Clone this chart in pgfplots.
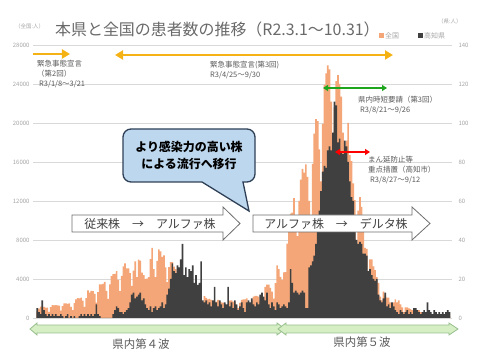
\documentclass[border=0pt]{standalone}
\usepackage{fontspec}
\setmainfont{Noto Sans CJK JP}
\usepackage{pgfplots}
\usepackage{pgfplotstable}
\pgfplotsset{compat=1.18}
\usetikzlibrary{arrows.meta}
\definecolor{natorange}{RGB}{244,166,120}
\definecolor{kdark}{RGB}{64,64,64}
\definecolor{gridgray}{RGB}{217,217,217}
\definecolor{tickgray}{RGB}{165,165,165}
\definecolor{txtgray}{RGB}{89,89,89}
\definecolor{titlegray}{RGB}{105,105,105}
\definecolor{gold}{RGB}{245,178,20}
\definecolor{callblue}{RGB}{189,215,238}
\definecolor{calldark}{RGB}{47,64,86}
\definecolor{lgreen}{RGB}{214,238,196}
\definecolor{lgreendraw}{RGB}{150,190,140}
\definecolor{garrow}{RGB}{30,165,30}
\definecolor{blockgray}{RGB}{110,110,110}

% national daily cases, 2021-03-01 .. 2021-10-31
\pgfplotstableread[row sep=\\,header=false]{
680\\950\\1170\\1190\\1150\\1060\\1070\\
620\\1120\\1310\\1290\\1320\\1300\\1280\\
760\\1220\\1510\\1500\\1460\\1500\\1130\\
800\\1520\\1920\\2040\\2020\\2080\\1780\\
1130\\2050\\2840\\2610\\2770\\2760\\2470\\
1570\\2660\\3450\\3450\\3500\\3700\\2780\\
1950\\3450\\4300\\4500\\4530\\4800\\3900\\
2750\\4330\\5300\\5600\\5100\\5100\\4600\\
3300\\4860\\5800\\4200\\5990\\5880\\4650\\
4390\\4000\\4050\\4200\\6050\\7200\\5000\\
4200\\5850\\7030\\6830\\6260\\6420\\5200\\
3680\\5230\\5730\\5730\\5280\\5020\\4000\\
2620\\4180\\4390\\4150\\3700\\3600\\2800\\
1780\\2910\\2890\\2810\\2600\\2570\\2000\\
1270\\2250\\2060\\1900\\1950\\1860\\1390\\
950\\1670\\1850\\1700\\1610\\1570\\1300\\
940\\1420\\1790\\1800\\1680\\1700\\1300\\
1000\\1540\\1870\\1910\\1900\\2000\\1560\\
1120\\1820\\2190\\2260\\2270\\2200\\1760\\
1290\\2090\\3200\\3420\\3430\\3100\\2700\\
1990\\3570\\5390\\5000\\4220\\3900\\4690\\
4700\\7630\\9580\\10700\\10800\\12300\\10170\\
8400\\12000\\14200\\15300\\14900\\15760\\14470\\
12000\\10420\\15800\\18900\\20400\\20200\\17300\\
14000\\19900\\23900\\25100\\25900\\25500\\22200\\
16800\\21600\\24300\\24900\\24000\\22700\\19000\\
12800\\18200\\20000\\16700\\16100\\13800\\12100\\
6600\\11000\\12400\\11400\\9000\\7200\\7100\\
4200\\6000\\6000\\5300\\4900\\4200\\3600\\
2200\\1800\\2700\\2300\\2100\\2100\\1600\\
900\\1600\\1900\\1600\\1800\\1400\\1100\\
600\\1100\\1100\\980\\900\\800\\700\\
380\\600\\800\\600\\600\\500\\400\\
230\\420\\390\\400\\300\\300\\250\\
150\\300\\400\\270\\300\\260\\170\\
}\nat

% Kochi daily cases, same days
\pgfplotstableread[row sep=\\,header=false]{
5\\3\\2\\9\\4\\2\\1\\
2\\1\\2\\1\\2\\1\\1\\
2\\1\\0\\1\\2\\0\\1\\
0\\1\\0\\0\\1\\2\\1\\
2\\1\\2\\1\\2\\1\\2\\
7\\2\\1\\0\\0\\0\\0\\
0\\0\\0\\2\\4\\6\\5\\
3\\3\\2\\3\\4\\5\\8\\
12\\13\\10\\11\\12\\13\\9\\
10\\7\\5\\4\\6\\3\\5\\
6\\4\\5\\6\\8\\5\\7\\
12\\15\\20\\28\\24\\23\\27\\
26\\30\\38\\22\\26\\21\\25\\
24\\27\\18\\22\\17\\18\\29\\
9\\8\\9\\7\\8\\6\\9\\
16\\8\\6\\9\\7\\5\\8\\
7\\16\\6\\8\\5\\9\\7\\
4\\6\\8\\5\\3\\8\\9\\
8\\10\\7\\6\\8\\7\\12\\
13\\11\\9\\13\\7\\5\\8\\
6\\4\\8\\7\\5\\6\\7\\
6\\5\\8\\25\\18\\13\\14\\
13\\12\\13\\14\\13\\5\\5\\
26\\27\\29\\32\\38\\45\\55\\
65\\75\\78\\77\\86\\88\\86\\
95\\111\\109\\90\\92\\85\\84\\
91\\88\\80\\70\\62\\60\\45\\
40\\38\\39\\38\\33\\33\\32\\
24\\25\\22\\20\\19\\20\\12\\
9\\8\\10\\13\\6\\7\\5\\
8\\6\\4\\3\\2\\4\\3\\
2\\3\\4\\2\\3\\2\\5\\
5\\4\\3\\2\\3\\4\\3\\
8\\4\\3\\2\\4\\3\\2\\
3\\2\\3\\2\\3\\4\\3\\
}\kochi

\begin{document}
\begin{tikzpicture}
\path[use as bounding box] (0,0) rectangle (480bp,360bp);
\begin{axis}[
  at={(33bp,42bp)}, anchor=south west,
  scale only axis, width=419bp, height=273bp,
  xmin=-2.5, xmax=245.5, ymin=0, ymax=28000,
  axis y line*=left, axis x line=none,
  axis line style={draw=none}, major tick length=0pt,
  xtick=\empty, ytick={0,4000,...,28000},
  scaled y ticks=false,
  ymajorgrids, grid style={draw=gridgray, line width=0.6pt},
  yticklabel style={font=\fontsize{6}{7}\selectfont, text=tickgray},
  /pgf/number format/1000 sep={},
  /pgf/number format/assume math mode=true,
]
\addplot[ybar, bar width=1, bar shift=0pt, fill=natorange, draw=none]
  table[x expr=\coordindex, y index=0] {\nat};
\end{axis}
\begin{axis}[
  at={(33bp,42bp)}, anchor=south west,
  scale only axis, width=419bp, height=273bp,
  xmin=-2.5, xmax=245.5, ymin=0, ymax=140,
  axis y line*=right, axis x line=none,
  axis line style={draw=none}, major tick length=0pt,
  xtick=\empty, ytick={0,20,...,140},
  scaled y ticks=false,
  yticklabel style={font=\fontsize{6}{7}\selectfont, text=tickgray, xshift=3bp},
  /pgf/number format/assume math mode=true,
]
\addplot[ybar, bar width=1, bar shift=0pt, fill=kdark, draw=none]
  table[x expr=\coordindex, y index=0] {\kochi};
\end{axis}

\begin{scope}[x=1bp, y=-1bp, shift={(0bp,360bp)}]
% title and units
\node[anchor=west, text=titlegray, font=\fontsize{16}{18}\selectfont, inner sep=0] at (55,29) {本県と全国の患者数の推移（R2.3.1～10.31）};
\node[anchor=west, text=tickgray, font=\fontsize{5.5}{6}\selectfont, inner sep=0] at (15,26) {（全国:人）};
\node[anchor=west, text=tickgray, font=\fontsize{5.5}{6}\selectfont, inner sep=0] at (438,21) {（県:人）};
% legend
\fill[natorange] (379,33) rectangle (384,38);
\node[anchor=west, text=tickgray, font=\fontsize{7}{8}\selectfont, inner sep=0] at (385,35.5) {全国};
\fill[kdark] (418,33) rectangle (423,38);
\node[anchor=west, text=tickgray, font=\fontsize{7}{8}\selectfont, inner sep=0] at (424,35.5) {高知県};

% state of emergency arrows
\draw[gold, line width=2.6bp, -{Triangle[length=8bp,width=9bp]}] (33,54) -- (70,54);
\draw[gold, line width=2.6bp, {Triangle[length=8bp,width=9bp]}-{Triangle[length=8bp,width=9bp]}] (115,55) -- (393,55);
\begin{scope}[every node/.style={anchor=west, text=txtgray, font=\fontsize{7.5}{9}\selectfont, inner sep=0}]
\node at (37,64) {緊急事態宣言};
\node at (37,74) {（第2回）};
\node at (39,84) {R3/1/8～3/21};
\node at (210,65) {緊急事態宣言(第3回)};
\node at (210,75) {R3/4/25～9/30};
\node at (358,100) {県内時短要請（第3回）};
\node at (360,110) {R3/8/21～9/26};
\node at (368,160) {まん延防止等};
\node at (368,170) {重点措置（高知市）};
\node at (370,180) {R3/8/27～9/12};
\end{scope}
\draw[garrow, line width=1.5bp, {Triangle[length=5bp,width=6bp]}-{Triangle[length=5bp,width=6bp]}] (323,88) -- (387,88);
\draw[red, line width=1.5bp, {Triangle[length=5bp,width=6bp]}-{Triangle[length=5bp,width=6bp]}] (335,152) -- (370,152);

% callout
\draw[fill=callblue, draw=calldark, line width=1.3bp] (202,182) [rounded corners=8bp] -- (123,182) -- (123,129) -- (255,129) -- (255,182) [sharp corners] -- (243,182) -- (249,211) -- cycle;
\node[font=\fontsize{12}{14}\selectfont\bfseries, inner sep=0] at (189,147) {より感染力の高い株};
\node[font=\fontsize{12}{14}\selectfont\bfseries, inner sep=0] at (189,164) {による流行へ移行};

% strain block arrows
\draw[fill=white, draw=blockgray, line width=0.8bp] (72,215) -- (223,215) -- (223,207) -- (240,223.5) -- (223,240) -- (223,232) -- (72,232) -- cycle;
\node[text=kdark, font=\fontsize{12}{14}\selectfont, inner sep=0] at (150,223.5) {従来株　→　アルファ株};
\draw[fill=white, draw=blockgray, line width=0.8bp] (253,215) -- (412,215) -- (412,207) -- (430,223.5) -- (412,240) -- (412,232) -- (253,232) -- cycle;
\node[text=kdark, font=\fontsize{12}{14}\selectfont, inner sep=0] at (336,223.5) {アルファ株　→　デルタ株};

% wave arrows
\draw[fill=lgreen, draw=lgreendraw, line width=0.8bp] (30,329) -- (37,323) -- (37,325) -- (277,325) -- (277,323) -- (285,329) -- (277,335) -- (277,333) -- (37,333) -- (37,335) -- cycle;
\draw[fill=lgreen, draw=lgreendraw, line width=0.8bp] (278,329) -- (286,323) -- (286,325) -- (449,325) -- (449,323) -- (458,329) -- (449,335) -- (449,333) -- (286,333) -- (286,335) -- cycle;
\node[text=txtgray, font=\fontsize{11.5}{13}\selectfont, inner sep=0] at (141,344) {県内第４波};
\node[text=txtgray, font=\fontsize{11.5}{13}\selectfont, inner sep=0] at (362,342) {県内第５波};
\end{scope}
\end{tikzpicture}
\end{document}
